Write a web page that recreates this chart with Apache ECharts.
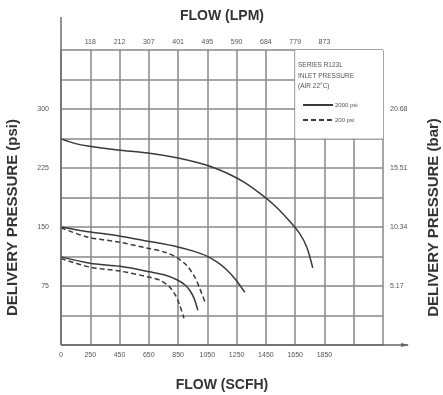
<!DOCTYPE html>
<html><head><meta charset="utf-8">
<script src="https://cdn.jsdelivr.net/npm/echarts@6/dist/echarts.min.js"></script>
<style>html,body{margin:0;padding:0;background:#fff;overflow:hidden}#c{width:443px;height:395px}</style>
</head><body><div id="c"></div>
<script>
// Bottom axis (SCFH): grid lines every 200 starting at the "0" line (placed at 50)
const scfhTicks = {50:'0',250:'250',450:'450',650:'650',850:'850',1050:'1050',1250:'1250',1450:'1450',1650:'1650',1850:'1850'};
const lpmTicks  = {250:'118',450:'212',650:'307',850:'401',1050:'495',1250:'590',1450:'684',1650:'779',1850:'873'};
const psiTicks  = {75:'75',150:'150',225:'225',300:'300'};
const barTicks  = {75:'5.17',150:'10.34',225:'15.51',300:'20.68'};
const legendHeader = ['SERIES R123L','INLET PRESSURE','(AIR 22°C)'];
const seriesHigh = '2000 psi';
const seriesLow  = '200 psi';

// curves: [flow axis value, psi]
const curveA_solid  = [[50,262],[150,256],[234,253],[439,248],[644,244],[842,238],[1000,231],[1100,225],[1200,217],[1300,207],[1400,194],[1500,179],[1600,160],[1680,142],[1730,124],[1770,98]];
const curveB_solid  = [[50,150],[234,144],[439,139],[644,132],[842,125],[960,119],[1047,113],[1120,105],[1180,96],[1244,83],[1306,67]];
const curveB_dashed = [[50,149],[234,137],[439,131],[644,123],[760,118],[842,111],[910,101],[965,86],[1000,71],[1033,55]];
const curveC_solid  = [[50,112],[248,104],[453,100],[658,93],[760,89],[842,83],[900,76],[935,68],[962,58],[985,44]];
const curveC_dashed = [[50,110],[248,99],[453,94],[658,86],[730,82],[790,74],[830,64],[860,51],[890,34]];

const chart = echarts.init(document.getElementById('c'), null, {renderer:'canvas'});
const gridCol = '#878787', curveCol = '#3a3a3a', txtCol = '#555';
const lbl = {color: txtCol, fontSize: 7, fontFamily: 'Liberation Sans'};
const titleStyle = {fontSize:14, fontWeight:'bold', color:'#333', fontFamily:'Liberation Sans'};
function mk(name, data, dashed) {
  return {type:'line', name, data, showSymbol:false, symbol:'none', smooth:0.3,
    lineStyle:{color:curveCol, width:1.5, type: dashed ? [5,3] : 'solid'},
    itemStyle:{color:curveCol}, xAxisIndex:0, yAxisIndex:0, z:3, silent:true};
}
const series = [
  mk(seriesHigh, curveA_solid, false),
  mk(seriesHigh, curveB_solid, false),
  mk(seriesLow, curveB_dashed, true),
  mk(seriesHigh, curveC_solid, false),
  mk(seriesLow, curveC_dashed, true),
  {type:'line', data:[], xAxisIndex:0, yAxisIndex:0, silent:true,
   markArea:{silent:true, itemStyle:{color:'#fff'}, data:[[{coord:[1650,262.5]},{coord:[2250,375]}]]}, z:1}
];
chart.setOption({
  animation:false,
  grid:{left:61, right:60, top:50, bottom:50, containLabel:false, outerBoundsMode:'none'},
  xAxis:[
    {type:'value', min:50, max:2250, interval:200, position:'bottom',
     axisLine:{show:false}, axisTick:{show:false},
     splitLine:{show:true, lineStyle:{color:gridCol, width:1.5}},
     axisLabel:{...lbl, margin:7, formatter:v=>scfhTicks[v]||''},
     name:'FLOW (SCFH)', nameLocation:'middle', nameGap:33, nameTextStyle:titleStyle},
    {type:'value', min:50, max:2250, interval:200, position:'top',
     axisLine:{show:false}, axisTick:{show:false}, splitLine:{show:false},
     axisLabel:{...lbl, margin:4.5, formatter:v=>lpmTicks[v]||''},
     name:'FLOW (LPM)', nameLocation:'middle', nameGap:27, nameTextStyle:titleStyle}
  ],
  yAxis:[
    {type:'value', min:0, max:375, interval:37.5, position:'left',
     axisLine:{show:false}, axisTick:{show:false},
     splitLine:{show:true, lineStyle:{color:gridCol, width:1.5}},
     axisLabel:{...lbl, margin:12, formatter:v=>psiTicks[v]||''},
     name:'DELIVERY PRESSURE (psi)', nameLocation:'middle', nameGap:41, nameRotate:90,
     nameTextStyle:{...titleStyle, fontSize:15, padding:[0,40,0,0]}},
    {type:'value', min:0, max:375, interval:37.5, position:'right',
     axisLine:{show:false}, axisTick:{show:false}, splitLine:{show:false},
     axisLabel:{...lbl, margin:7, formatter:v=>barTicks[v]||''},
     name:'DELIVERY PRESSURE (bar)', nameLocation:'middle', nameGap:43, nameRotate:90,
     nameTextStyle:{...titleStyle, fontSize:15, padding:[0,40,0,0]}}
  ],
  legend:{show:true, orient:'vertical', left:297, top:97, itemWidth:30, itemHeight:6, itemGap:9,
    data:[seriesHigh, seriesLow], selectedMode:false, itemStyle:{opacity:0},
    textStyle:{fontSize:6, color:txtCol, fontFamily:'Liberation Sans', padding:[0,0,0,-3]}},
  series
});
const p00 = chart.convertToPixel({xAxisIndex:0, yAxisIndex:0}, [50,0]);
const p11 = chart.convertToPixel({xAxisIndex:0, yAxisIndex:0}, [2250,375]);
chart.setOption({graphic:[
  {type:'line', z:100, shape:{x1:p00[0], y1:p00[1], x2:p00[0], y2:17}, style:{stroke:'#666', lineWidth:1.4}},
  {type:'line', z:100, shape:{x1:p00[0], y1:p00[1], x2:p11[0]+25, y2:p00[1]}, style:{stroke:'#666', lineWidth:1.4}},
  {type:'polygon', z:100, shape:{points:[[p11[0]+26,p00[1]],[p11[0]+18,p00[1]-2],[p11[0]+18,p00[1]+2]]}, style:{fill:'#666'}},
  {type:'text', z:100, left:p11[0]-85, top:60, style:{text:legendHeader.join('\n'), fontSize:6.5, lineHeight:10.5, fill:txtCol, fontFamily:'Liberation Sans'}}
]});
</script></body></html>
